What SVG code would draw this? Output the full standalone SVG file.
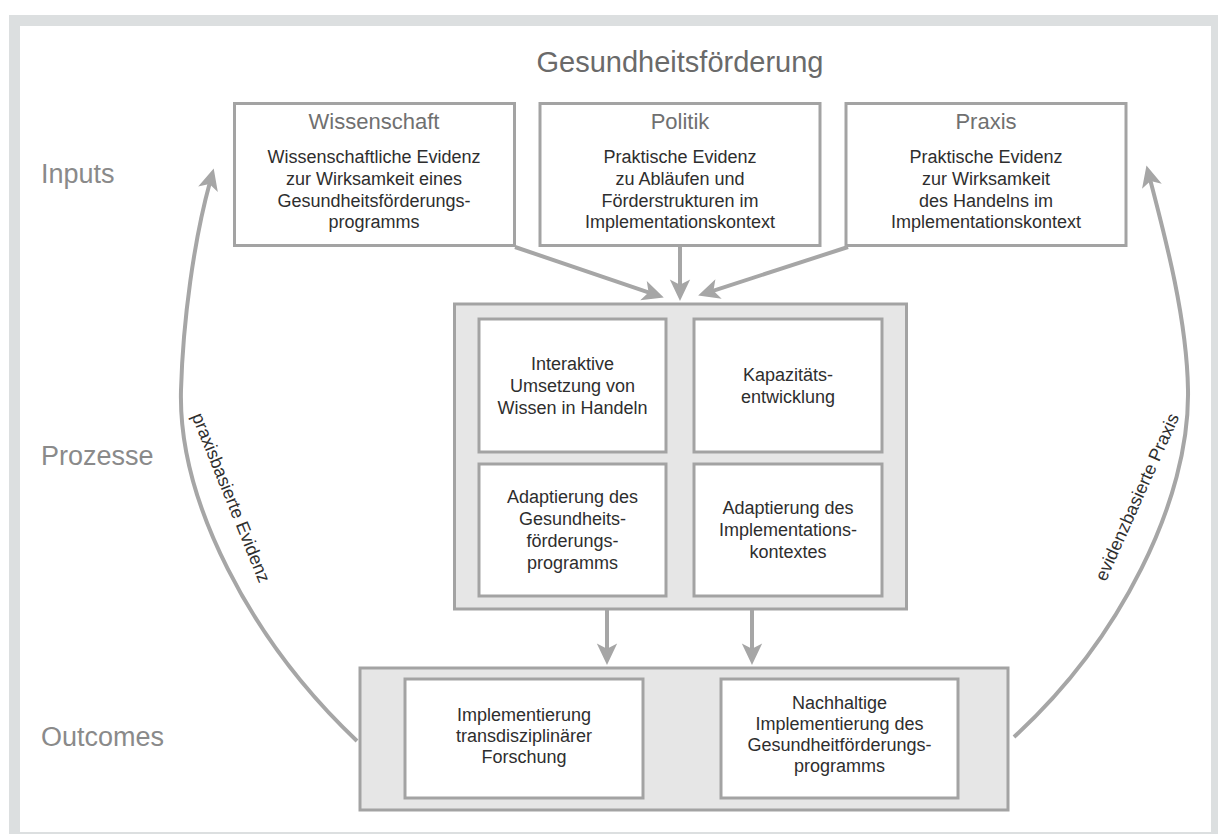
<svg xmlns="http://www.w3.org/2000/svg" width="1218" height="834" viewBox="0 0 1218 834">
<style>
.frame{fill:none;stroke:#dcdfe0;stroke-width:11}
.box{fill:#ffffff;stroke:#a3a3a3;stroke-width:3}
.cont{fill:#e6e6e6;stroke:#a3a3a3;stroke-width:3}
.t{font-family:"Liberation Sans",Arial,sans-serif;font-size:18px;fill:#2e2e2e;text-anchor:middle}
.h{font-family:"Liberation Sans",Arial,sans-serif;font-size:22px;fill:#707070;text-anchor:middle}
.title{font-family:"Liberation Sans",Arial,sans-serif;font-size:29px;fill:#6a6a6a;text-anchor:middle}
.lab{font-family:"Liberation Sans",Arial,sans-serif;font-size:27px;fill:#8a8a8a}
.cl{font-family:"Liberation Sans",Arial,sans-serif;font-size:18px;fill:#2e2e2e;text-anchor:middle}
.ar{fill:none;stroke:#a6a6a6;stroke-width:4}
</style>
<defs>
<marker id="ah" markerUnits="userSpaceOnUse" markerWidth="30" markerHeight="30" viewBox="-12 -12 28 24" refX="0" refY="0" orient="auto">
<path d="M13,0 L-7,-9.5 L-2,0 L-7,9.5 Z" fill="#a6a6a6"/>
</marker>
</defs>
<rect width="1218" height="834" fill="#ffffff"/>
<rect class="frame" x="14.5" y="20.5" width="1202" height="817"/>
<text class="title" x="680" y="72">Gesundheitsförderung</text>
<g id="labels">
<text class="lab" x="41" y="183">Inputs</text>
<text class="lab" x="41" y="465">Prozesse</text>
<text class="lab" x="41" y="746">Outcomes</text>
</g>
<g id="wissenschaft">
<rect class="box" x="234.5" y="103.5" width="280" height="142"/>
<text class="h" x="374" y="129">Wissenschaft</text>
<text class="t" x="374" y="163">Wissenschaftliche Evidenz</text>
<text class="t" x="374" y="185">zur Wirksamkeit eines</text>
<text class="t" x="374" y="207">Gesundheitsförderungs-</text>
<text class="t" x="374" y="228">programms</text>
</g>
<g id="politik">
<rect class="box" x="540" y="103.5" width="280" height="142"/>
<text class="h" x="680" y="129">Politik</text>
<text class="t" x="680" y="163">Praktische Evidenz</text>
<text class="t" x="680" y="185">zu Abläufen und</text>
<text class="t" x="680" y="207">Förderstrukturen im</text>
<text class="t" x="680" y="228">Implementationskontext</text>
</g>
<g id="praxis">
<rect class="box" x="846" y="103.5" width="280" height="142"/>
<text class="h" x="986" y="129">Praxis</text>
<text class="t" x="986" y="163">Praktische Evidenz</text>
<text class="t" x="986" y="185">zur Wirksamkeit</text>
<text class="t" x="986" y="207">des Handelns im</text>
<text class="t" x="986" y="228">Implementationskontext</text>
</g>
<g id="prozesse">
<rect class="cont" x="454.5" y="304" width="452" height="305"/>
</g>
<g id="interaktiv">
<rect class="box" x="479" y="319" width="187" height="133"/>
<text class="t" x="572.5" y="370">Interaktive</text>
<text class="t" x="572.5" y="392">Umsetzung von</text>
<text class="t" x="572.5" y="414">Wissen in Handeln</text>
</g>
<g id="kapazitaet">
<rect class="box" x="694" y="319" width="188" height="133"/>
<text class="t" x="788" y="381">Kapazitäts-</text>
<text class="t" x="788" y="403">entwicklung</text>
</g>
<g id="adapt-programm">
<rect class="box" x="479" y="464" width="187" height="132"/>
<text class="t" x="572.5" y="503">Adaptierung des</text>
<text class="t" x="572.5" y="525">Gesundheits-</text>
<text class="t" x="572.5" y="547">förderungs-</text>
<text class="t" x="572.5" y="569">programms</text>
</g>
<g id="adapt-kontext">
<rect class="box" x="694" y="464" width="188" height="132"/>
<text class="t" x="788" y="514">Adaptierung des</text>
<text class="t" x="788" y="536">Implementations-</text>
<text class="t" x="788" y="558">kontextes</text>
</g>
<g id="outcomes">
<rect class="cont" x="360" y="668" width="648" height="142"/>
</g>
<g id="forschung">
<rect class="box" x="405" y="679" width="238" height="119"/>
<text class="t" x="524" y="721">Implementierung</text>
<text class="t" x="524" y="742">transdisziplinärer</text>
<text class="t" x="524" y="763">Forschung</text>
</g>
<g id="nachhaltig">
<rect class="box" x="721" y="679" width="237" height="119"/>
<text class="t" x="839.5" y="709">Nachhaltige</text>
<text class="t" x="839.5" y="730">Implementierung des</text>
<text class="t" x="839.5" y="751">Gesundheitförderungs-</text>
<text class="t" x="839.5" y="772">programms</text>
</g>
<g id="connectors">
<path class="ar" d="M515,247 L650.6,293.1" marker-end="url(#ah)"/>
<path class="ar" d="M680,247 L680,287" marker-end="url(#ah)"/>
<path class="ar" d="M848,247 L711.4,291.3" marker-end="url(#ah)"/>
<path class="ar" d="M607,610 L607,651" marker-end="url(#ah)"/>
<path class="ar" d="M752,610 L752,651" marker-end="url(#ah)"/>
<path class="ar" d="M357,741 C250,640 178,500 181,390 C183,320 194,240 210,182" marker-end="url(#ah)"/>
<path class="ar" d="M1014,737 C1120,640 1190,500 1188,390 C1187,320 1166,240 1150,179" marker-end="url(#ah)"/>
<text class="cl" transform="translate(225.5,500) rotate(68)">praxisbasierte Evidenz</text>
<text class="cl" transform="translate(1142.5,499.5) rotate(-66)">evidenzbasierte Praxis</text>
</g>
</svg>
